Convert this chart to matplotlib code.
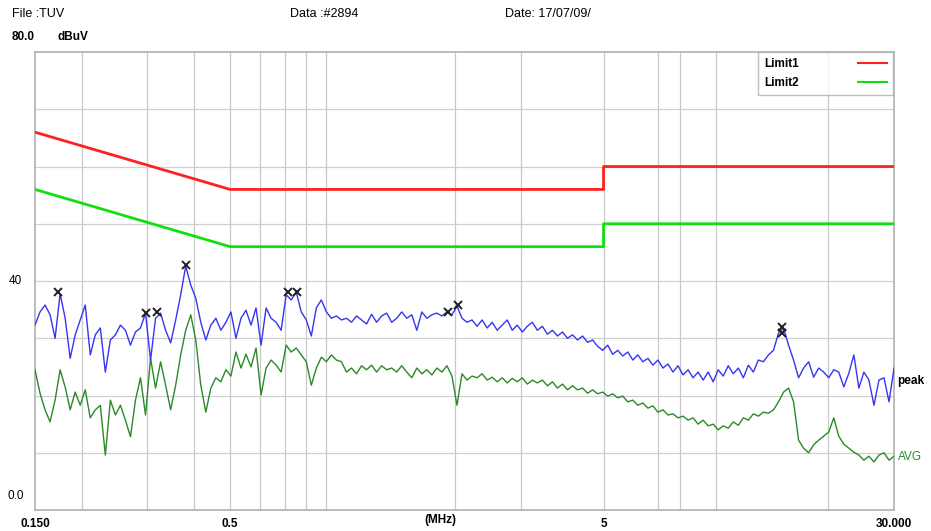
"""
EMI conducted emission scan: peak / average trace against Limit1 / Limit2.
"""

import numpy as np
import matplotlib
matplotlib.use("Agg")
import matplotlib.pyplot as plt
from matplotlib.lines import Line2D

plt.rcParams["font.family"] = ["Liberation Sans", "DejaVu Sans"]

# limits (dBuV) at the corner frequencies (MHz)
LIMIT_FREQ = [0.15, 0.5, 5, 5, 30]
LIMIT1 = [66, 56, 56, 60, 60]
LIMIT2 = [56, 46, 46, 50, 50]

# peak trace (log sweep 0.15 .. 30 MHz)
PEAK = [
    32.3, 34.6, 35.8, 34.1, 30.0, 37.8, 33.5, 26.5, 30.6, 33.2,
    35.8, 27.1, 30.6, 31.8, 24.1, 29.7, 30.6, 32.3, 31.4, 28.8,
    31.1, 31.8, 34.4, 26.2, 33.5, 34.4, 31.4, 29.2, 33.2, 37.6,
    42.6, 39.3, 37.0, 32.8, 29.7, 32.3, 33.5, 31.4, 32.8, 34.6,
    30.0, 33.5, 34.9, 32.3, 35.3, 28.8, 35.3, 33.5, 32.8, 31.4,
    37.6, 36.7, 38.1, 34.6, 33.2, 30.4, 35.3, 36.7, 34.6, 33.5,
    33.9, 33.2, 33.5, 32.8, 33.9, 33.2, 32.5, 34.2, 32.8, 33.9,
    34.4, 32.8, 33.5, 34.6, 33.5, 34.1, 31.4, 34.6, 33.5, 34.1,
    34.4, 33.9, 34.6, 34.1, 35.6, 33.5, 32.8, 33.2, 32.1, 33.2,
    31.8, 32.8, 31.4, 32.3, 33.2, 31.4, 32.3, 31.1, 32.1, 32.8,
    31.4, 32.1, 30.7, 31.4, 30.4, 31.1, 30.0, 30.6, 29.7, 30.4,
    29.3, 29.7, 28.6, 27.9, 28.8, 27.2, 27.9, 26.9, 27.6, 26.2,
    27.1, 25.9, 26.5, 25.3, 26.2, 24.8, 25.5, 24.1, 25.2, 23.6,
    24.5, 23.1, 24.1, 22.7, 24.1, 22.4, 24.5, 23.4, 25.2, 23.8,
    24.8, 23.1, 25.3, 24.1, 26.2, 25.9, 27.1, 27.9, 30.9, 31.8,
    28.8, 26.2, 23.1, 24.8, 25.9, 23.2, 24.8, 24.1, 23.1, 24.5,
    24.1, 21.5, 23.9, 27.1, 21.3, 24.1, 22.7, 18.3, 22.7, 23.1,
    18.9, 24.8,
]

# average trace
AVG = [
    24.5, 20.4, 17.5, 15.4, 19.2, 24.5, 21.5, 17.5, 20.6, 18.3,
    21.0, 16.1, 17.5, 18.3, 9.6, 19.2, 16.6, 18.3, 15.7, 12.8,
    19.2, 23.1, 16.6, 26.5, 21.3, 25.9, 21.8, 17.5, 21.8, 27.1,
    31.4, 34.1, 29.7, 21.8, 17.1, 21.3, 23.1, 22.4, 24.5, 23.4,
    27.6, 24.8, 27.2, 25.0, 28.3, 20.1, 24.8, 26.2, 25.3, 24.1,
    28.8, 27.6, 28.3, 27.1, 25.9, 21.8, 24.8, 26.7, 25.9, 27.1,
    26.2, 25.9, 24.1, 24.8, 23.8, 25.2, 24.5, 25.3, 24.1, 25.2,
    24.5, 24.8, 24.1, 25.2, 24.1, 23.1, 24.8, 23.8, 24.5, 23.6,
    24.8, 24.1, 25.2, 23.4, 18.3, 23.8, 22.7, 23.4, 23.1, 23.8,
    22.7, 23.2, 22.4, 23.1, 22.2, 23.0, 22.4, 23.1, 22.0, 22.7,
    22.2, 22.7, 21.7, 22.4, 21.3, 22.0, 21.0, 21.7, 21.0, 21.3,
    20.4, 21.0, 20.3, 20.6, 19.9, 20.3, 19.6, 19.9, 18.9, 19.2,
    18.3, 18.7, 17.8, 18.2, 17.1, 17.5, 16.6, 16.8, 16.1, 16.4,
    15.7, 16.1, 15.0, 15.7, 14.7, 15.0, 14.0, 14.7, 14.3, 15.4,
    14.8, 16.1, 15.7, 16.8, 16.4, 17.1, 16.9, 17.5, 18.9, 20.6,
    21.3, 18.9, 12.2, 10.8, 10.0, 11.4, 12.2, 12.9, 13.6, 16.1,
    12.9, 11.5, 10.8, 10.1, 9.6, 8.7, 9.4, 8.4, 9.6, 10.0,
    8.7, 9.4,
]

# marker (x) positions on the peak trace
MARK_FREQ = [0.173, 0.298, 0.319, 0.381, 0.716, 0.756, 1.92, 2.04, 15.0, 15.0]
MARK_LEVEL = [38.1, 34.4, 34.6, 42.8, 38.1, 38.1, 34.6, 35.8, 31.9, 30.9]

GRID_FREQ = [0.2, 0.3, 0.4, 0.5, 0.6, 0.7, 0.8, 0.9, 2, 3, 5, 7, 8, 10, 20]
X_TICKS = [0.15, 0.5, 5, 30]
X_LABELS = ["0.150", "0.5", "5", "30.000"]

peak_freq = np.geomspace(0.15, 30, len(PEAK))
avg_freq = np.geomspace(0.15, 30, len(AVG))

fig = plt.figure(figsize=(9.31, 5.31), dpi=100)
ax = fig.add_axes([0.0376, 0.0395, 0.9227, 0.8625])

ax.set_xscale("log")
ax.set_xlim(0.15, 30)
ax.set_ylim(0, 80)

# grid
for f in GRID_FREQ:
    ax.axvline(f, color="#c8c8c8", lw=0.9, zorder=0)
for v in range(10, 80, 10):
    ax.axhline(v, color="#d0d0d0", lw=0.9, zorder=0)

ax.plot(LIMIT_FREQ, LIMIT1, color="#ff2020", lw=2.0, zorder=3)
ax.plot(LIMIT_FREQ, LIMIT2, color="#10e010", lw=2.0, zorder=3)

ax.plot(avg_freq, AVG, color="#2a8a2a", lw=1.0, zorder=4)
ax.plot(peak_freq, PEAK, color="#3535f5", lw=1.0, zorder=5)
ax.plot(MARK_FREQ, MARK_LEVEL, ls="none", marker="x", ms=6, mew=1.4,
        color="#202020", zorder=6)

for s in ax.spines.values():
    s.set_color("#b0b0b0")
    s.set_linewidth(1.2)

ax.set_xticks(X_TICKS)
ax.set_xticklabels(X_LABELS, fontsize=8.5, fontweight="bold")
ax.xaxis.set_minor_locator(matplotlib.ticker.NullLocator())
ax.tick_params(axis="x", length=0, pad=6)
ax.set_yticks([])
fig.text(440 / 931, 0.02, "(MHz)", fontsize=8.5, fontweight="bold",
         ha="center", va="center")

# header
fig.text(12 / 931, 1 - 14 / 531, "File :TUV", fontsize=9, va="center")
fig.text(290 / 931, 1 - 14 / 531, "Data :#2894", fontsize=9, va="center")
fig.text(505 / 931, 1 - 14 / 531, "Date: 17/07/09/", fontsize=9, va="center")
fig.text(12 / 931, 1 - 37 / 531, "80.0", fontsize=8.5, fontweight="bold", va="center")
fig.text(58 / 931, 1 - 37 / 531, "dBuV", fontsize=8.5, fontweight="bold", va="center")

# y labels
ytr = ax.get_yaxis_transform()
ax.text(-0.015, 40, "40", transform=ytr, fontsize=8.5, ha="right", va="center")
ax.text(-0.013, 2.5, "0.0", transform=ytr, fontsize=8.5, ha="right", va="center")

# trace labels on the right
ax.text(1.004, 22.5, "peak", transform=ytr, fontsize=8.5, fontweight="bold",
        va="center", clip_on=False)
ax.text(1.004, 9.3, "AVG", transform=ytr, fontsize=8.5, color="#2a8a2a",
        va="center", clip_on=False)

handles = [Line2D([], [], color="#ff2020", lw=1.5, label="Limit1"),
           Line2D([], [], color="#10e010", lw=1.5, label="Limit2")]
leg = ax.legend(handles=handles, loc="upper right", markerfirst=False,
                fontsize=8.5, frameon=True, fancybox=False, handlelength=2.5,
                borderaxespad=0.0, bbox_to_anchor=(0.999, 1.0),
                borderpad=0.5, labelspacing=0.6, handletextpad=5.0)
leg.get_frame().set_edgecolor("#b0b0b0")
leg.get_frame().set_linewidth(1.0)
for t in leg.get_texts():
    t.set_fontweight("bold")

fig.savefig("out.png", dpi=100)
